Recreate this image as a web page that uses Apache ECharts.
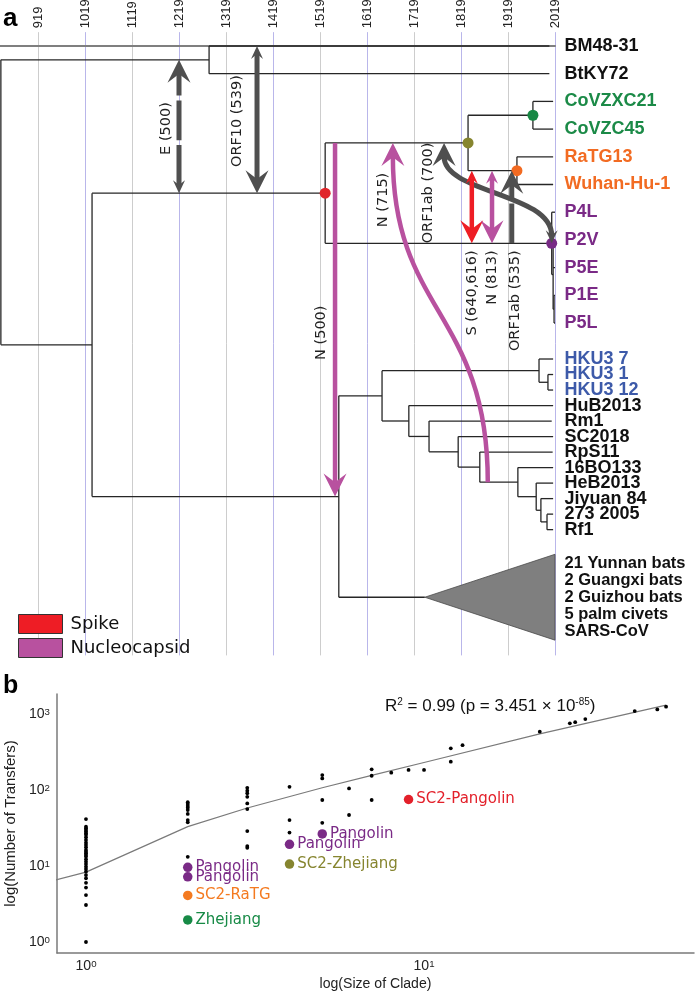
<!DOCTYPE html>
<html><head><meta charset="utf-8">
<script src="https://cdn.jsdelivr.net/npm/echarts@6/dist/echarts.min.js"></script>
<style>html,body{margin:0;padding:0;background:#fff}#c{width:700px;height:993px}</style>
</head><body><div id="c"></div>
<script>
// ================= PANEL a : dated tree =================
// internal nodes (id, parent, age in years)
const nodeIds     = ['n0','n1','n2','n3','n4','n5','n6','n7','n8','n9','n10','n11','n12','n13','n14','n15','n16','n17','n18','n19','n20','n21'];
const nodeParents = [null,'n0','n0','n2','n3','n4','n4','n3','n7','n8','n2','n10','n11','n12','n11','n14','n15','n16','n17','n18','n19','n20'];
const nodeYears   = [840,1283,1034,1530,1834,1972,1938,2012,2015,2017,1559,1651,1985,2004,1708,1751,1813,1859,1940,1979,1989,2002];

// leaves (tip order row, parent, sampling year)
const leafNames   = ['BM48-31','BtKY72','CoVZXC21','CoVZC45','RaTG13','Wuhan-Hu-1','P4L','P2V','P5E','P1E','P5L','HKU3 7','HKU3 1','HKU3 12','HuB2013','Rm1','SC2018','RpS11','16BO133','HeB2013','Jiyuan 84','273 2005','Rf1'];
const leafParents = ['n1','n1','n5','n5','n6','n6','n7','n8','n8','n9','n9','n12','n13','n13','n14','n15','n16','n17','n18','n19','n20','n21','n21'];
const leafYears   = [2007,2007,2015,2015,2015,2015,2019,2019,2019,2019,2019,2015,2015,2015,2015,2012,2015,2014,2015,2015,2015,2015,2015];
const leafRows    = [0,1,2,3,4,5,6,7,8,9,10,11.3,11.86,12.42,12.98,13.54,14.1,14.66,15.22,15.78,16.34,16.9,17.46];

// collapsed clade
const cladeLabel = '21 Yunnan bats\n2 Guangxi bats\n2 Guizhou bats\n5 palm civets\nSARS-CoV';
const cladeParent = 'n10';
const cladeApexYear = 1742;
const cladeRow = 19.9;
const cladeTopRow = 18.35;
const cladeBottomRow = 21.45;
const presentYear = 2019;

// coloured nodes
const dotNodes = ['n3','n4','n5','n6','n7'];

// recombination transfers
const arrowLabels    = ['E (500)','ORF10 (539)','N (500)','N (715)','ORF1ab (700)','S (640,616)','N (813)','ORF1ab (535)'];
const arrowGenes     = ['E','ORF10','N','N','ORF1ab','S','N','ORF1ab'];
const arrowFromNodes = ['n3','BM48-31','n4','n18','n7','n6','n6','n7'];
const arrowFromYears = [1219,1385,1551,1876,2012,1842,1885,1927];
const arrowToNodes   = ['n1','n3','n10','n4','n4','n7','n7','n6'];
const arrowToYears   = [1219,1385,1551,1674,1783,1842,1885,1927];
const arrowDouble    = [true,true,false,false,true,true,true,false];

// ================= PANEL b : transfers vs clade size =================
const cladeSizes = [1,2,3,4,5,6,7,8,9,10,12,13,22,27,28,30,42,49,52];
const transferCounts = [
  [41.5,32.9,31.3,29.8,28.4,27.0,25.7,23.9,22,20.3,18.9,17.6,16.3,15.4,14.7,14.0,13.3,12.3,11.4,10.6,9.8,9.1,8.4,7.6,6.9,6.0,5.2,4.15,3.07,1],
  [69,65.6,61.7,58.6,54.6,48.5,40.2,37.6,13.2],
  [107,98,90.6,81.4,66.7,56.2,28.8,18.3,17.4],
  [110,40.2,27.5],
  [157,142,73.9,37],
  [105,46.9],
  [187,154,73.9],
  [169],[184],[184],
  [354,236],[389],[585],[754],[780],[858],[1093],[1149],[1250]
];
const hiNames  = ['Pangolin','Pangolin','SC2-RaTG','Zhejiang','Pangolin','SC2-Zhejiang','Pangolin','SC2-Pangolin'];
const hiSizes  = [2,2,2,2,4,4,5,9];
const hiCounts = [9.6,7.2,4.1,1.95,19.3,10.6,26.4,75];
const fitSizes  = [0.75,1,2,3,5,7,10,22,52];
const fitCounts = [6.0,8.3,33,58,107,156,230,547,1310];

// ================= styles =================
const C = {purple:'#7a2a86', green:'#1b8a47', orange:'#f26b22', blue:'#3d5aa9', red:'#e3202a', olive:'#86852f',
           grayArrow:'#4f4f4f', spike:'#ee1d25', nucleo:'#b8519f'};
const leafColor = {'CoVZXC21':C.green,'CoVZC45':C.green,'RaTG13':C.orange,'Wuhan-Hu-1':C.orange,
  'P4L':C.purple,'P2V':C.purple,'P5E':C.purple,'P1E':C.purple,'P5L':C.purple,
  'HKU3 7':C.blue,'HKU3 1':C.blue,'HKU3 12':C.blue};
const dotColor = {n3:'#e0262b', n4:C.olive, n5:'#178844', n6:'#f26a21', n7:'#772a85'};
const hiColors = [C.purple,C.purple,'#f47a20','#178a46',C.purple,C.olive,C.purple,C.red];
const arrowLabelStyle = [
  {at:'mid', dx:-13, dy:2, align:'center'},
  {at:'mid', dx:-20, dy:1.5, align:'center'},
  {at:'mid', dx:-14, dy:13, align:'center'},
  {at:'to', dx:-10, dy:57, align:'center'},
  {at:'to', dx:-16, dy:50, align:'center'},
  {at:'to', dx:0, dy:7, align:'right'},
  {at:'to', dx:0, dy:7, align:'right'},
  {at:'from', dx:3, dy:7, align:'right'}
];
const dashedArrows = [0,7];

function fontAvailable(name){
  const c = document.createElement('canvas').getContext('2d');
  const s = 'abcdefghijklmnopqrstuvwxyzABCDEFG0123456789';
  c.font = '20px monospace'; const w1 = c.measureText(s).width;
  c.font = "20px '"+name+"', monospace"; const w2 = c.measureText(s).width;
  c.font = '20px serif'; const w3 = c.measureText(s).width;
  c.font = "20px '"+name+"', serif"; const w4 = c.measureText(s).width;
  return Math.abs(w1-w2)>0.5 || Math.abs(w3-w4)>0.5;
}
const NARROW = fontAvailable('Liberation Sans Narrow');
const bFam = NARROW ? 'Liberation Sans Narrow' : 'Liberation Sans';
const bK = NARROW ? 1 : 0.88;

// ================= build tree geometry =================
const nodeX = {}, nodeY = {}, children = {};
nodeIds.forEach((id,i)=>{ nodeX[id]=nodeYears[i]; children[id]=[]; });
leafNames.forEach((nm,i)=>{ nodeX[nm]=leafYears[i]; nodeY[nm]=leafRows[i]; children[leafParents[i]].push(nm); });
nodeX['clade']=cladeApexYear; nodeY['clade']=cladeRow; children[cladeParent].push('clade');
nodeIds.forEach((id,i)=>{ if(nodeParents[i]) children[nodeParents[i]].push(id); });
function yOf(id){
  if(nodeY[id]!==undefined) return nodeY[id];
  const ys = children[id].map(yOf);
  nodeY[id] = (Math.min(...ys)+Math.max(...ys))/2;
  return nodeY[id];
}
yOf('n0');
const edges = [];
nodeIds.forEach(id=>{
  const ys = children[id].map(c=>nodeY[c]);
  edges.push([nodeX[id], Math.min(...ys), nodeX[id], Math.max(...ys)]);
  children[id].forEach(c=>edges.push([nodeX[id], nodeY[c], nodeX[c], nodeY[c]]));
});

function arrowData(group){
  const out = [];
  arrowGenes.forEach((g,i)=>{
    const grp = g==='S' ? 'Spike' : (g==='N' ? 'Nucleocapsid' : 'Other');
    if(grp===group) out.push([arrowFromYears[i], nodeY[arrowFromNodes[i]], arrowToYears[i], nodeY[arrowToNodes[i]], i]);
  });
  return out;
}
function unit(a,b){ const dx=a[0]-b[0], dy=a[1]-b[1]; const l=Math.hypot(dx,dy)||1; return [dx/l, dy/l]; }
function head(P, d, L, W, color){
  const n=[-d[1], d[0]];
  const back=[P[0]-d[0]*L, P[1]-d[1]*L];
  const notch=[P[0]-d[0]*L*0.62, P[1]-d[1]*L*0.62];
  return {type:'polygon', shape:{points:[P,[back[0]+n[0]*W/2, back[1]+n[1]*W/2], notch, [back[0]-n[0]*W/2, back[1]-n[1]*W/2]]},
          style:{fill:color, stroke:null}};
}
function makeArrowRender(color, lw){
  return function(params, api){
    const i = api.value(4);
    const P0 = api.coord([api.value(0), api.value(1)]);
    const P3 = api.coord([api.value(2), api.value(3)]);
    const ym = (P0[1]+P3[1])/2;
    const C1 = [P0[0], ym], C2 = [P3[0], ym];
    const bigL=23, bigW=23, smL=13, smW=12;
    const dEnd = unit(P3, C2);
    const end = [P3[0]-dEnd[0]*bigL*0.6, P3[1]-dEnd[1]*bigL*0.6];
    let start = P0, dStart = unit(P0, C1);
    if(arrowDouble[i]) start = [P0[0]-dStart[0]*smL*0.6, P0[1]-dStart[1]*smL*0.6];
    const kids = [];
    kids.push({type:'bezierCurve', shape:{x1:start[0],y1:start[1],x2:end[0],y2:end[1],cpx1:C1[0],cpy1:C1[1],cpx2:C2[0],cpy2:C2[1]},
      style:{stroke:color, lineWidth:lw, fill:'none', lineDash: dashedArrows.indexOf(i)>=0 ? [40,5] : null}});
    kids.push(head(P3, dEnd, bigL, bigW, color));
    if(arrowDouble[i]) kids.push(head(P0, dStart, smL, smW, color));
    const ls = arrowLabelStyle[i];
    const A = ls.at==='mid' ? [(P0[0]+P3[0])/2, (P0[1]+P3[1])/2] : (ls.at==='to' ? P3 : P0);
    kids.push({type:'text', x:A[0]+ls.dx, y:A[1]+ls.dy, rotation:Math.PI/2,
      style:{text:arrowLabels[i], fill:'#222', fontFamily:'DejaVu Sans', fontSize:14.5, align:ls.align, verticalAlign:'middle'}});
    return {type:'group', children:kids};
  };
}

function powLabel(v){
  const e = Math.log10(v); const r = Math.round(e);
  if(Math.abs(e-r)>1e-6) return '';
  return '{b|10}{s|'+r+'}';
}
const powRich = {b:{fontFamily:bFam, fontSize:16*bK, color:'#222'}, s:{fontFamily:bFam, fontSize:11*bK, color:'#222', verticalAlign:'top'}};

const chart = echarts.init(document.getElementById('c'), null, {renderer:'canvas'});
const option = {
  animation:false,
  backgroundColor:'#fff',
  textStyle:{fontFamily:'Liberation Sans'},
  grid:[
    {left:-9, right:145, top:32.15, bottom:337.6, containLabel:false, outerBoundsMode:'none'},
    {left:57, right:6, top:694, bottom:40, containLabel:false, outerBoundsMode:'none'}
  ],
  xAxis:[
    {gridIndex:0, type:'value', position:'top', min:819, max:2019, interval:100,
     axisLine:{show:true, lineStyle:{color:'#7f7f7f', width:2}}, axisTick:{show:false},
     axisLabel:{show:true, rotate:90, showMinLabel:false, margin:4, color:'#222', fontSize:13, fontFamily:'Liberation Sans',
       formatter:v=> v===819 ? '' : String(v)},
     splitLine:{show:true, lineStyle:{color:['#b9b6ea','#cdcdcd'], width:1}}},
    {gridIndex:1, type:'log', logBase:10, min:0.8208, max:62.9,
     axisLine:{show:true, onZero:false, lineStyle:{color:'#7a7a7a', width:1.5}}, axisTick:{show:false}, splitLine:{show:false},
     axisLabel:{margin:6, formatter:powLabel, rich:powRich, showMinLabel:false, showMaxLabel:false},
     name:'log(Size of Clade)', nameLocation:'middle', nameGap:24,
     nameTextStyle:{fontFamily:bFam, fontSize:16*bK, color:'#222'}}
  ],
  yAxis:[
    {gridIndex:0, type:'value', min:-0.5, max:22, inverse:true, show:false},
    {gridIndex:1, type:'log', logBase:10, min:0.7166, max:1834,
     axisLine:{show:true, onZero:false, lineStyle:{color:'#7a7a7a', width:1.5}}, axisTick:{show:false}, splitLine:{show:false},
     axisLabel:{margin:7, formatter:powLabel, rich:powRich, showMinLabel:false, showMaxLabel:false},
     name:'log(Number of Transfers)', nameLocation:'middle', nameGap:33,
     nameTextStyle:{fontFamily:bFam, fontSize:17*bK, color:'#222'}}
  ],
  legend:{show:true, orient:'vertical', left:13, top:609, itemWidth:44, itemHeight:19, itemGap:4, selectedMode:false,
    textStyle:{fontFamily:'DejaVu Sans', fontSize:18, color:'#111', padding:[0,0,0,3]},
    data:[{name:'Spike', icon:'rect', itemStyle:{color:C.spike, borderColor:'#333', borderWidth:1}},
          {name:'Nucleocapsid', icon:'rect', itemStyle:{color:C.nucleo, borderColor:'#333', borderWidth:1}}]},
  graphic:[
    {type:'text', x:3, y:19, style:{text:'a', fontFamily:'Liberation Sans', fontWeight:'bold', fontSize:26, fill:'#000', verticalAlign:'middle'}},
    {type:'text', x:3, y:686, style:{text:'b', fontFamily:'Liberation Sans', fontWeight:'bold', fontSize:25, fill:'#000', verticalAlign:'middle'}},
    {type:'text', x:385, y:706, style:{text:'{t|R}{s|2}{t| = 0.99 (p = 3.451 × 10}{s|-85}{t|)}', verticalAlign:'middle',
      rich:{t:{fontFamily:'Liberation Sans', fontSize:17, fill:'#111', color:'#111'}, s:{fontFamily:'Liberation Sans', fontSize:10, fill:'#111', color:'#111', verticalAlign:'top'}}}}
  ],
  series:[
    {type:'custom', name:'tree', xAxisIndex:0, yAxisIndex:0, data:edges, silent:true, z:2, clip:false,
     renderItem:(p,api)=>{ const a=api.coord([api.value(0),api.value(1)]), b=api.coord([api.value(2),api.value(3)]);
       return {type:'line', shape:{x1:a[0],y1:a[1],x2:b[0],y2:b[1]}, style:{stroke:'#262626', lineWidth:1.3}}; }},
    {type:'custom', name:'collapsed', xAxisIndex:0, yAxisIndex:0, silent:true, z:2, clip:false,
     data:[[cladeApexYear, cladeRow, presentYear, cladeTopRow, cladeBottomRow]],
     renderItem:(p,api)=>{ const a=api.coord([api.value(0),api.value(1)]), t=api.coord([api.value(2),api.value(3)]), b=api.coord([api.value(2),api.value(4)]);
       return {type:'polygon', shape:{points:[a,t,b]}, style:{fill:'#7f7f7f', stroke:'#4a4a4a', lineWidth:0.8}}; }},
    {type:'scatter', name:'nodes', xAxisIndex:0, yAxisIndex:0, symbolSize:11, z:4, silent:true, itemStyle:{opacity:1},
     data:dotNodes.map(id=>({value:[nodeX[id], nodeY[id]], itemStyle:{color:dotColor[id], opacity:1}}))},
    {type:'scatter', name:'tips', xAxisIndex:0, yAxisIndex:0, symbolSize:1, z:4, silent:true, itemStyle:{color:'rgba(0,0,0,0)', opacity:1},
     label:{show:true, position:'right', distance:9, formatter:'{b}', fontFamily:'Liberation Sans', fontWeight:'bold', fontSize:18, color:'#111', opacity:1},
     data:leafNames.map((n,i)=>({name:n, value:[presentYear, leafRows[i]], label:{color:leafColor[n]||'#111'}}))
       .concat([{name:cladeLabel, value:[presentYear, cladeRow], label:{fontSize:16.5, lineHeight:17}}])},
    {type:'custom', name:'Other', xAxisIndex:0, yAxisIndex:0, z:5, clip:false, silent:true, data:arrowData('Other'), renderItem:makeArrowRender(C.grayArrow, 5)},
    {type:'custom', name:'Spike', xAxisIndex:0, yAxisIndex:0, z:5, clip:false, silent:true, itemStyle:{color:C.spike}, data:arrowData('Spike'), renderItem:makeArrowRender(C.spike, 4.5)},
    {type:'custom', name:'Nucleocapsid', xAxisIndex:0, yAxisIndex:0, z:5, clip:false, silent:true, itemStyle:{color:C.nucleo}, data:arrowData('Nucleocapsid'), renderItem:makeArrowRender(C.nucleo, 4.5)},

    {type:'line', name:'fit', xAxisIndex:1, yAxisIndex:1, data:fitSizes.map((x,i)=>[x, fitCounts[i]]), showSymbol:false, symbol:'none',
     lineStyle:{color:'#7a7a7a', width:1.2}, z:2, silent:true},
    {type:'scatter', name:'clades', xAxisIndex:1, yAxisIndex:1, symbolSize:3.8, itemStyle:{color:'#000', opacity:1}, z:3, silent:true,
     data:[].concat(...cladeSizes.map((x,i)=>transferCounts[i].map(v=>[x,v])))},
    {type:'scatter', name:'highlight', xAxisIndex:1, yAxisIndex:1, symbolSize:9.5, z:4, silent:true, itemStyle:{opacity:1},
     label:{show:true, position:'right', distance:3, formatter:'{b}', fontFamily:'DejaVu Sans', fontSize:15},
     data:hiNames.map((n,i)=>({name:n, value:[hiSizes[i], hiCounts[i]], itemStyle:{color:hiColors[i], opacity:1}, label:{color:hiColors[i]}}))}
  ]
};
chart.setOption(option);
</script>
</body></html>
